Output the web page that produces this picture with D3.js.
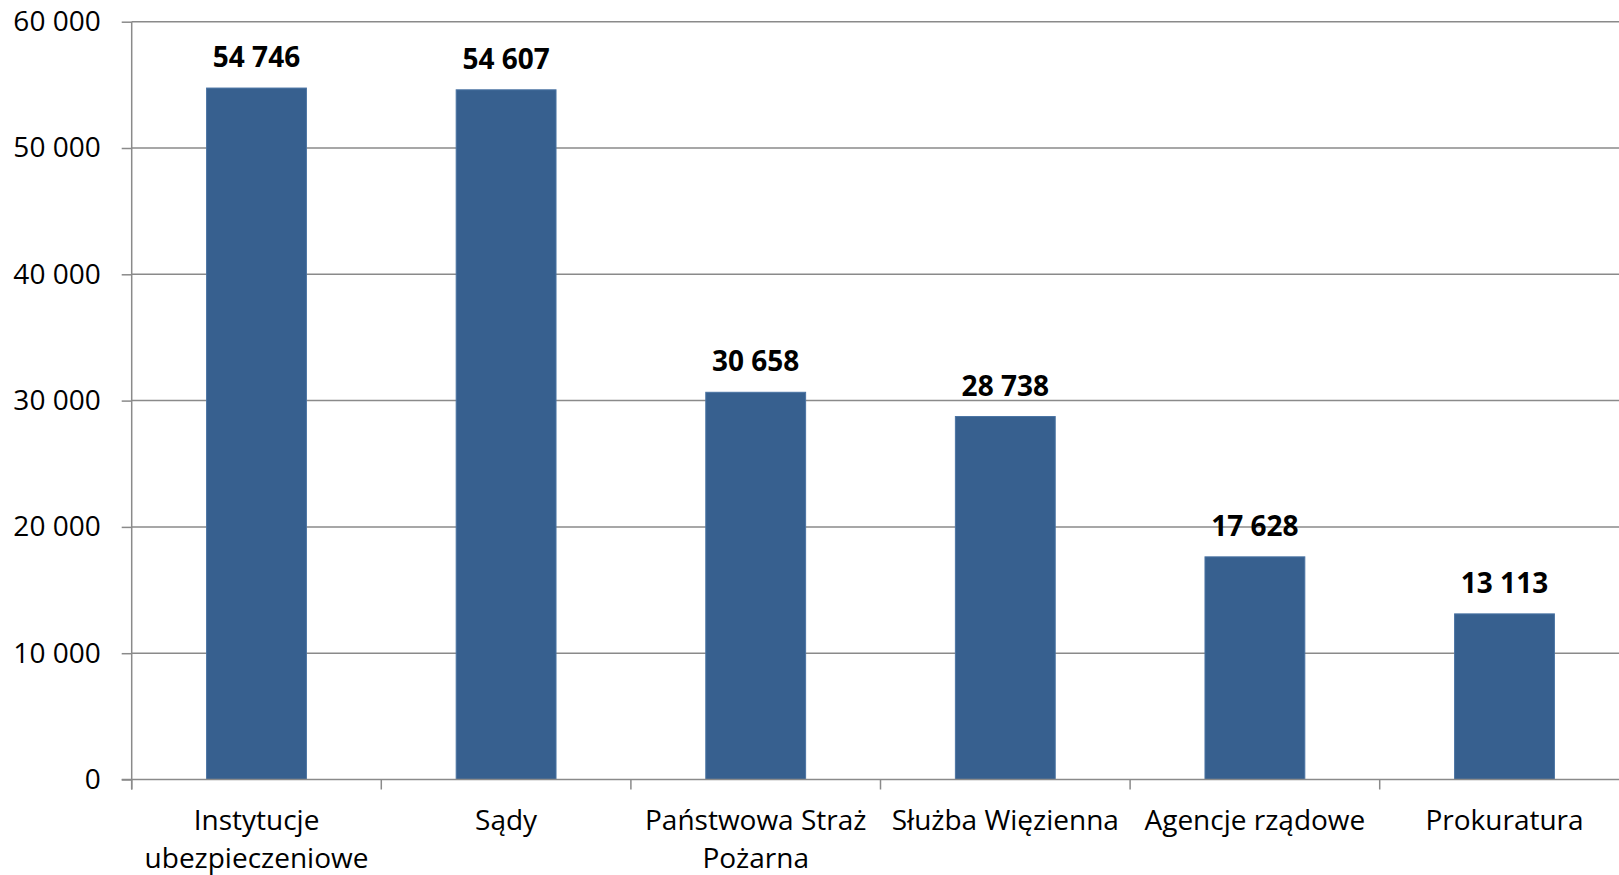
<!DOCTYPE html>
<html>
<head>
<meta charset="utf-8">
<script src="https://cdn.jsdelivr.net/npm/d3@7"></script>
<style>
  body { margin: 0; background: #fff; }
  svg { display: block; overflow: hidden; }
  text { font-family: "Open Sans", "Noto Sans", sans-serif; fill: #000; }
</style>
</head>
<body>
<div id="chart"></div>
<script>
// values
const categories = [
  "Instytucje ubezpieczeniowe",
  "Sądy",
  "Państwowa Straż Pożarna",
  "Służba Więzienna",
  "Agencje rządowe",
  "Prokuratura"
];
const values = [54746, 54607, 30658, 28738, 17628, 13113];
const yTicks = [0, 10000, 20000, 30000, 40000, 50000, 60000];

const svgWidth = 1619;
const svgHeight = 875;
const margin = { top: 21.7, left: 131.7 };
const bandW = 249.6;
const chartWidth = bandW * categories.length;
const chartHeight = 757.8;

const pl = d3.formatLocale({ decimal: ",", thousands: " ", grouping: [3], currency: ["", ""] });
const fmt = pl.format(",d");

const svg = d3.select("#chart")
  .append("svg")
  .attr("width", svgWidth)
  .attr("height", svgHeight);

const g = svg.append("g")
  .attr("transform", `translate(${margin.left},${margin.top})`);

const x = d3.scaleBand()
  .domain(categories)
  .range([0, chartWidth])
  .paddingInner(0.6)
  .paddingOuter(0.3);

const y = d3.scaleLinear().domain([0, 60000]).range([chartHeight, 0]);

// gridlines
g.append("g")
  .attr("class", "grid")
  .selectAll("line")
  .data(yTicks.filter((d) => d > 0))
  .enter()
  .append("line")
  .attr("x1", 0)
  .attr("x2", chartWidth)
  .attr("y1", (d) => y(d))
  .attr("y2", (d) => y(d))
  .attr("stroke", "#8a8a8a")
  .attr("stroke-width", 1.5);

// bars
g.selectAll(".bar")
  .data(values)
  .enter()
  .append("rect")
  .attr("class", "bar")
  .attr("x", (d, i) => x(categories[i]))
  .attr("width", x.bandwidth())
  .attr("y", (d) => y(d))
  .attr("height", (d) => chartHeight - y(d))
  .attr("fill", "#37608f")
  .attr("stroke", "#4a73a3")
  .attr("stroke-width", 1);

// value labels
g.selectAll(".val")
  .data(values)
  .enter()
  .append("text")
  .attr("class", "val")
  .attr("x", (d, i) => x(categories[i]) + x.bandwidth() / 2)
  .attr("y", (d) => y(d) - 21)
  .attr("text-anchor", "middle")
  .style("font-size", "28px")
  .style("font-weight", "bold")
  .text((d) => fmt(d));

// y axis
const yAxisG = g.append("g").attr("class", "yAxisG");
yAxisG.call(
  d3.axisLeft(y)
    .tickValues(yTicks)
    .tickFormat((d) => fmt(d))
    .tickSize(10)
    .tickPadding(21)
);
yAxisG.select(".domain").remove();
yAxisG.append("line")
  .attr("x1", 0).attr("x2", 0)
  .attr("y1", 0).attr("y2", chartHeight + 10)
  .attr("stroke", "#8a8a8a").attr("stroke-width", 1.5);
yAxisG.selectAll(".tick line").attr("stroke", "#8a8a8a").attr("stroke-width", 1.5);
yAxisG.selectAll(".tick text")
  .style("font-size", "28px")
  .style("font-family", "'Open Sans', sans-serif")
  .attr("fill", "#000");

// x axis
const xAxisG = g.append("g")
  .attr("class", "xAxisG")
  .attr("transform", `translate(0,${chartHeight})`);
xAxisG.append("line")
  .attr("x1", -10).attr("x2", chartWidth)
  .attr("stroke", "#8a8a8a").attr("stroke-width", 1.5);
xAxisG.selectAll(".xtick")
  .data(d3.range(categories.length + 1))
  .enter()
  .append("line")
  .attr("class", "xtick")
  .attr("x1", (d) => d * x.step())
  .attr("x2", (d) => d * x.step())
  .attr("y1", 0).attr("y2", 10)
  .attr("stroke", "#8a8a8a").attr("stroke-width", 1.5);

const labels = xAxisG.selectAll(".xlabel")
  .data(categories)
  .enter()
  .append("text")
  .attr("class", "xlabel")
  .attr("text-anchor", "middle")
  .style("font-size", "28px")
  .attr("transform", (d) => `translate(${x(d) + x.bandwidth() / 2},50)`);

// wrap long category names into lines that fit in one band
labels.each(function (d) {
  const t = d3.select(this);
  const words = d.split(" ");
  let line = [];
  let tspan = t.append("tspan").attr("x", 0).attr("dy", 0);
  words.forEach((w) => {
    line.push(w);
    tspan.text(line.join(" "));
    if (tspan.node().getComputedTextLength() > bandW - 6 && line.length > 1) {
      line.pop();
      tspan.text(line.join(" "));
      line = [w];
      tspan = t.append("tspan").attr("x", 0).attr("dy", "1.36em").text(w);
    }
  });
});
</script>
</body>
</html>
